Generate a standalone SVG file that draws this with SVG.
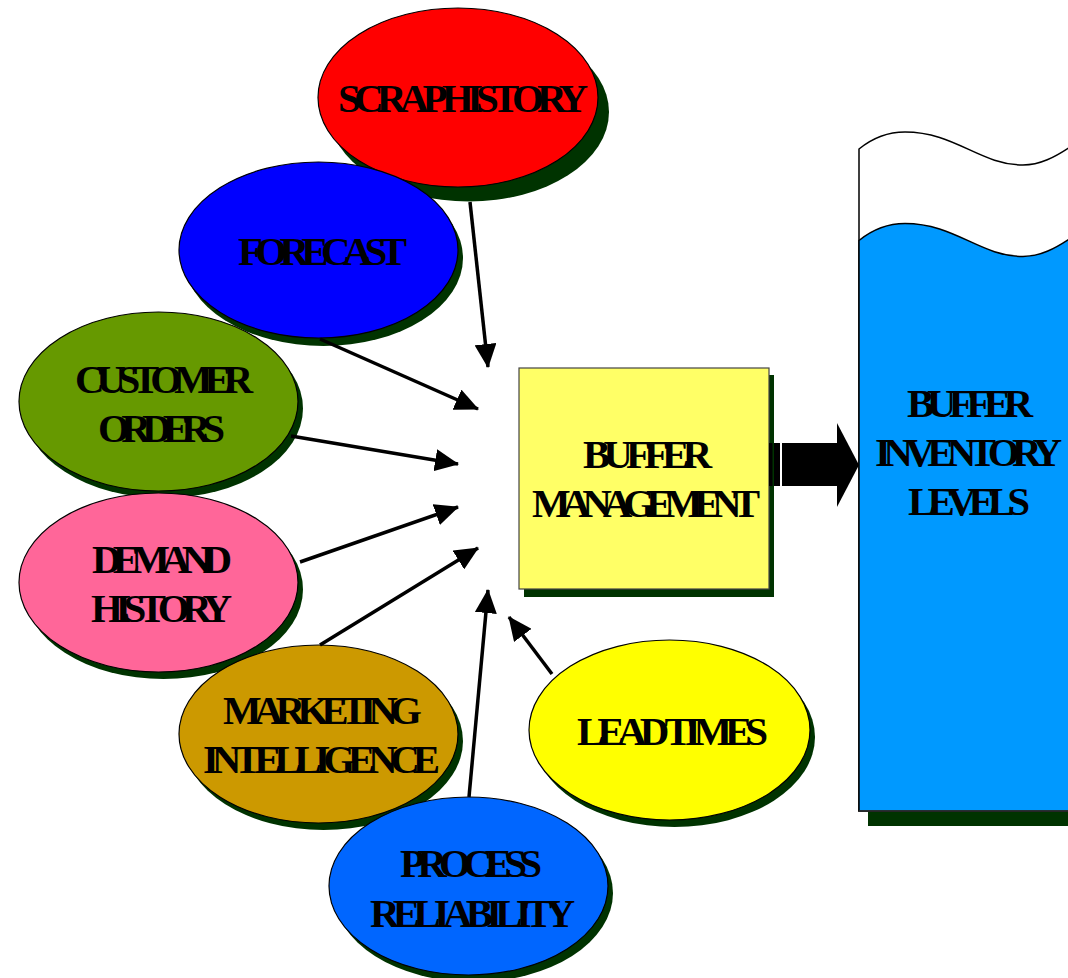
<svg xmlns="http://www.w3.org/2000/svg" width="1068" height="978" viewBox="0 0 1068 978">
<style>
.lbl{font-family:"Liberation Serif","Times New Roman",serif;font-size:41px;font-weight:bold;fill:#000}
.sh{fill:#003300}
.ol{stroke:#000;stroke-width:1.2}
.con{stroke:#000;stroke-width:3.5;fill:none}
</style>
<defs>
<marker id="ah" markerUnits="userSpaceOnUse" markerWidth="24" markerHeight="22" refX="23" refY="11" orient="auto">
<path d="M0,0 L24,11 L0,22 Z" fill="#000"/>
</marker>
</defs>
<rect width="1068" height="978" fill="#fff"/>

<g id="tank">
<rect class="sh" x="868" y="200" width="210" height="626"/>
<path d="M859,149 C875,136 890,132 905,132 C955,132 980,165 1023,165 C1040,165 1055,157 1070,147 L1070,811 L859,811 Z" fill="#fff" stroke="#000" stroke-width="1.5"/>
<path d="M859,240.5 C875,227.5 890,223.5 905,223.5 C955,223.5 980,256.5 1023,256.5 C1040,256.5 1055,248.5 1070,238.5 L1070,811 L859,811 Z" fill="#0099FF" stroke="#000" stroke-width="1.5"/>
<path d="M859,811 L1070,811" stroke="#333" stroke-width="1.5"/>
<text class="lbl" x="907" y="417" textLength="126">BUFFER</text>
<text class="lbl" x="875" y="466" textLength="187">INVENTORY</text>
<text class="lbl" x="908" y="515" textLength="122">LEVELS</text>
</g>

<g id="scrap">
<ellipse class="sh" cx="469" cy="112" rx="140" ry="89.5"/>
<ellipse class="ol" cx="458" cy="97.5" rx="140" ry="89.5" fill="#FF0000"/>
<text class="lbl" x="338" y="112" textLength="250">SCRAP HISTORY</text>
</g>

<g id="forecast">
<ellipse class="sh" cx="323.5" cy="258" rx="139.5" ry="88"/>
<ellipse class="ol" cx="318.5" cy="250" rx="139.5" ry="88" fill="#0000FF"/>
<text class="lbl" x="238" y="265" textLength="169">FORECAST</text>
</g>

<g id="customer">
<ellipse class="sh" cx="163.5" cy="408.5" rx="139.5" ry="89.5"/>
<ellipse class="ol" cx="158.5" cy="401.5" rx="139.5" ry="89.5" fill="#669900"/>
<text class="lbl" x="75" y="393" textLength="178">CUSTOMER</text>
<text class="lbl" x="98" y="442" textLength="127">ORDERS</text>
</g>

<g id="demand">
<ellipse class="sh" cx="163.5" cy="589.5" rx="139.5" ry="89.5"/>
<ellipse class="ol" cx="158.5" cy="582.5" rx="139.5" ry="89.5" fill="#FF6699"/>
<text class="lbl" x="92" y="573" textLength="140">DEMAND</text>
<text class="lbl" x="91" y="622" textLength="141">HISTORY</text>
</g>

<g id="marketing">
<ellipse class="sh" cx="323.5" cy="741" rx="139.5" ry="89"/>
<ellipse class="ol" cx="318.5" cy="734" rx="139.5" ry="89" fill="#CC9900"/>
<text class="lbl" x="223" y="724" textLength="199">MARKETING</text>
<text class="lbl" x="203" y="773" textLength="237">INTELLIGENCE</text>
</g>

<g id="process">
<ellipse class="sh" cx="473.5" cy="893" rx="139.5" ry="89"/>
<ellipse class="ol" cx="468.5" cy="886" rx="139.5" ry="89" fill="#0066FF"/>
<text class="lbl" x="400" y="877" textLength="142">PROCESS</text>
<text class="lbl" x="370" y="927" textLength="205">RELIABILITY</text>
</g>

<g id="leadtimes">
<ellipse class="sh" cx="674.5" cy="737" rx="140.5" ry="90"/>
<ellipse class="ol" cx="669.5" cy="730" rx="140.5" ry="90" fill="#FFFF00"/>
<text class="lbl" x="577" y="745" textLength="191">LEAD TIMES</text>
</g>

<g id="buffer-management">
<rect class="sh" x="524" y="375" width="250" height="222"/>
<rect x="519" y="368" width="250" height="221" fill="#FFFF66" stroke="#444" stroke-width="1.2"/>
<text class="lbl" x="583" y="468" textLength="129">BUFFER</text>
<text class="lbl" x="532" y="517" textLength="228">MANAGEMENT</text>
</g>

<g id="connectors">
<line class="con" x1="470" y1="202" x2="488" y2="367" marker-end="url(#ah)"/>
<line class="con" x1="320" y1="339" x2="478" y2="409" marker-end="url(#ah)"/>
<line class="con" x1="291" y1="436" x2="458" y2="464" marker-end="url(#ah)"/>
<line class="con" x1="300" y1="562" x2="458" y2="507" marker-end="url(#ah)"/>
<line class="con" x1="320" y1="645" x2="478" y2="548" marker-end="url(#ah)"/>
<line class="con" x1="469" y1="797" x2="488" y2="590" marker-end="url(#ah)"/>
<line class="con" x1="552" y1="674" x2="509" y2="617" marker-end="url(#ah)"/>
<g id="block-arrow" fill="#000">
<rect x="769" y="443" width="3.5" height="43"/>
<rect x="774" y="443" width="6" height="43"/>
<rect x="782" y="443" width="56" height="43"/>
<path d="M837,423 L859,465 L837,507 Z"/>
</g>
</g>
</svg>
